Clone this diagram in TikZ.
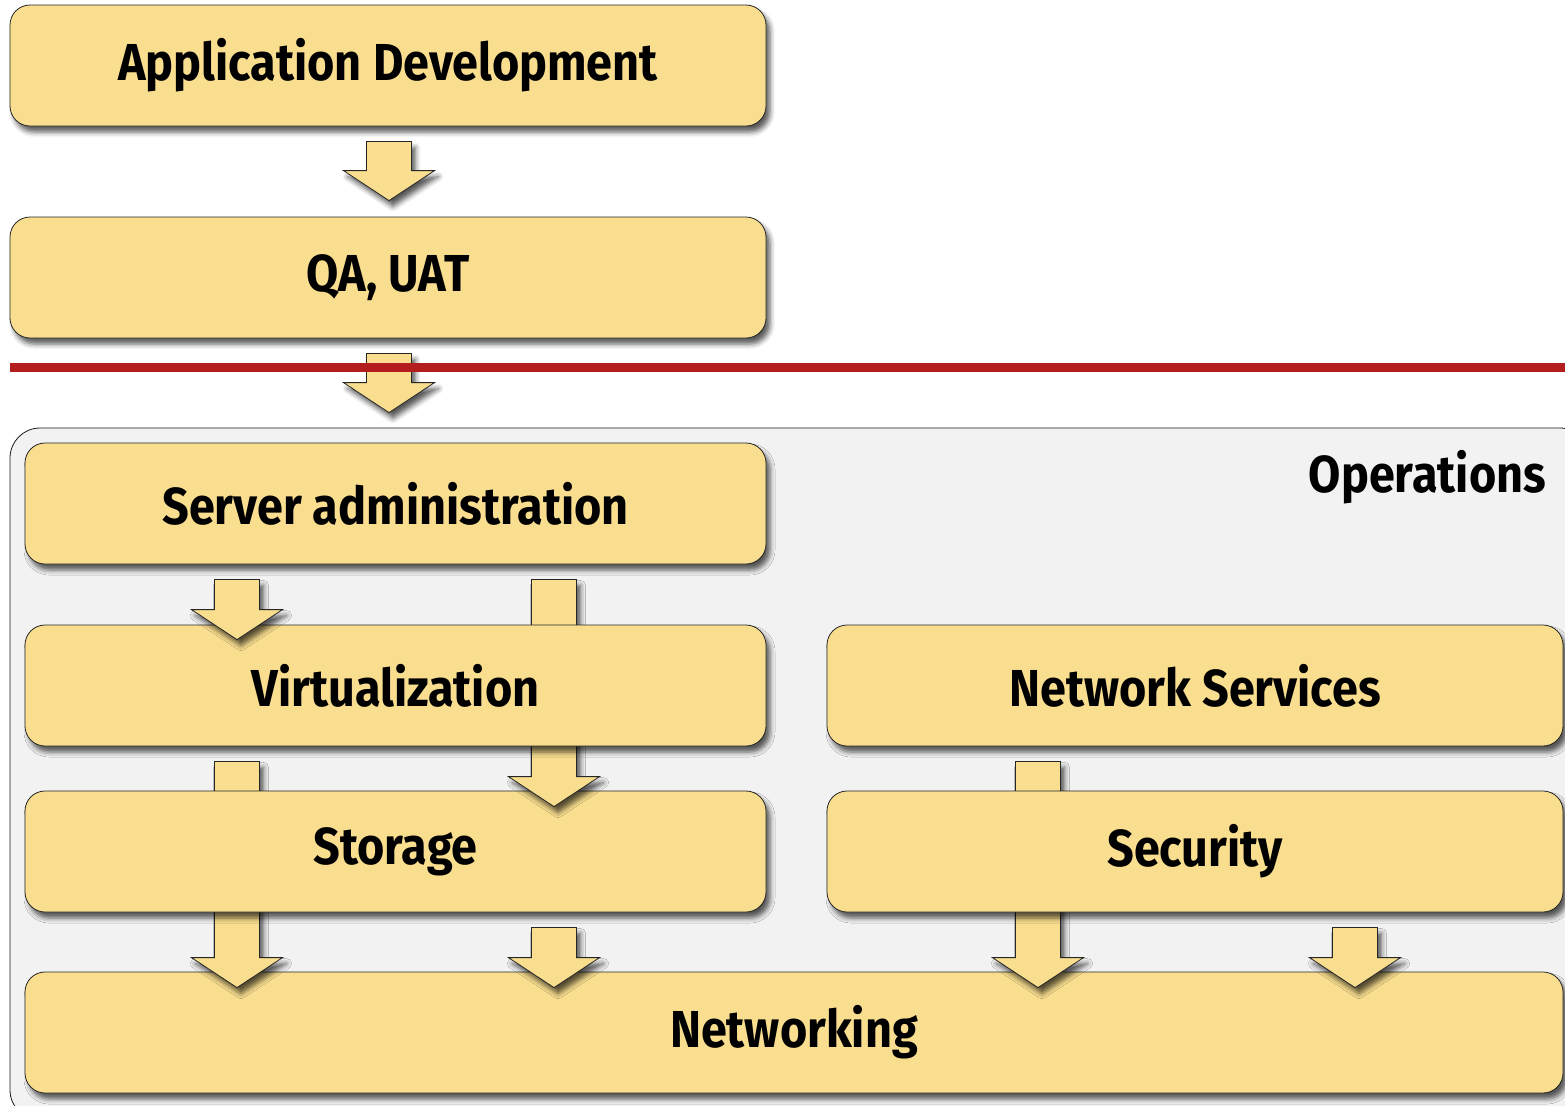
\documentclass[tikz,border=0pt]{standalone}
\usepackage{fontspec}
\setmainfont{Fira Sans}[FakeStretch=0.9]
\usetikzlibrary{calc,shadows.blur}

\definecolor{boxyellow}{HTML}{F9DE8F}
\definecolor{opsgray}{HTML}{F2F2F2}
\definecolor{linered}{HTML}{B31D1D}

% block arrow: x position, source node, target node, tip offset from target top
\newcommand{\bigarrow}[4]{%
  \draw [arrowbox] let \p0=(#1,0), \p1=(#2.south), \p2=(#3.north) in
    (\x0-11.25pt,\y1-7.5pt) -- (\x0+11.25pt,\y1-7.5pt) -- (\x0+11.25pt,\y2#4+15pt)
    -- (\x0+22.75pt,\y2#4+15pt) -- (\x0,\y2#4) -- (\x0-22.75pt,\y2#4+15pt)
    -- (\x0-11.25pt,\y2#4+15pt) -- cycle;}

\begin{document}
\begin{tikzpicture}[x=0.5pt,y=-0.5pt,
  softshadow/.style={blur shadow={shadow xshift=2pt, shadow yshift=-3pt, shadow blur radius=2.5pt, shadow opacity=65}},
  slot/.style={minimum height=60.5pt},
  box/.style={draw=black!85, fill=boxyellow, rounded corners=10pt, minimum height=60.5pt,
    font=\bfseries\fontsize{26}{30}\selectfont, softshadow},
  arrowbox/.style={draw=black!85, fill=boxyellow, softshadow},
  opsframe/.style={draw=black!90, fill=opsgray, rounded corners=15pt}]

\useasboundingbox (0,0) rectangle (1565,1105);

% slots for the operations layers
\path node [slot, minimum width=370.5pt] (server) at (395.5,503.5) {}
      node [slot, minimum width=370.5pt] (virt) at (395.5,685.5) {}
      node [slot, minimum width=368pt] (netsvc) at (1195,685.5) {}
      node [slot, minimum width=370.5pt] (storage) at (395.5,851.5) {}
      node [slot, minimum width=368pt] (security) at (1195,851.5) {};

% Development side
\node [box, minimum width=378pt] (app) at (388,65.5) {Application Development};
\node [box, minimum width=378pt] (qa) at (388,277.5) {QA, UAT};
\bigarrow{389}{app}{qa}{+8pt}

% Operations frame
\node [opsframe, minimum width=790pt, minimum height=346pt] (ops) at (800,774) {};
\node [anchor=east, font=\bfseries\fontsize{26}{30}\selectfont] (opslabel) at (1553,477) {Operations};
\bigarrow{389}{qa}{ops}{+7.5pt}

% separator
\draw [linered, line width=4.5pt] (10,367) -- (1565,367);

% Operations layers, bottom first
\node [box, minimum width=769pt] (networking) at (794,1032.5) {Networking};
\bigarrow{237}{virt}{networking}{-8pt}
\bigarrow{554}{storage}{networking}{-8pt}
\bigarrow{1038}{netsvc}{networking}{-8pt}
\bigarrow{1355}{security}{networking}{-8pt}

\node [box, minimum width=370.5pt] (storagebox) at (storage) {Storage};
\node [box, minimum width=368pt] (securitybox) at (security) {Security};
\bigarrow{554}{server}{storage}{-8pt}

\node [box, minimum width=370.5pt] (virtbox) at (virt) {Virtualization};
\node [box, minimum width=368pt] (netsvcbox) at (netsvc) {Network Services};
\bigarrow{237}{server}{virt}{-7.5pt}

\node [box, minimum width=370.5pt] (serverbox) at (server) {Server administration};

\end{tikzpicture}
\end{document}
